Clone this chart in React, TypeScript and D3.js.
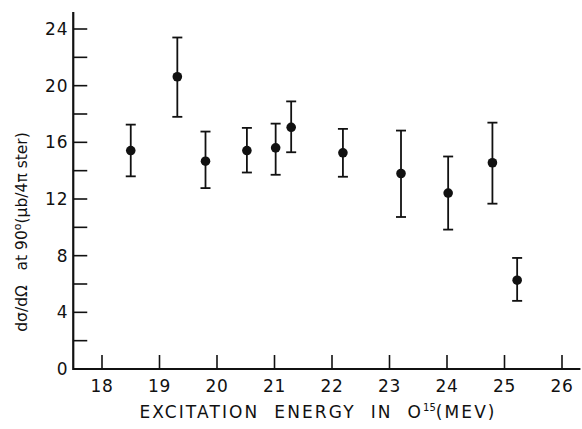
import React, { useEffect, useRef } from "react";
import * as d3 from "d3";

// excitation energy (MeV) and cross section with error bar ends
const energy = [18.5, 19.31, 19.8, 20.52, 21.02, 21.29, 22.19, 23.2, 24.02, 24.79, 25.22];
const sigma = [15.42, 20.63, 14.67, 15.42, 15.61, 17.06, 15.26, 13.8, 12.42, 14.56, 6.27];
const errHigh = [17.25, 23.4, 16.76, 17.02, 17.32, 18.89, 16.95, 16.83, 15.0, 17.39, 7.84];
const errLow = [13.6, 17.8, 12.77, 13.87, 13.71, 15.3, 13.57, 10.73, 9.84, 11.67, 4.81];

const xTicks = [18, 19, 20, 21, 22, 23, 24, 25, 26];
const yMajor = [0, 4, 8, 12, 16, 20, 24];
const yMinor = [2, 6, 10, 14, 18, 22];

const W = 582;
const H = 429;
const FONT = "'DejaVu Sans', sans-serif";

function App() {
  const ref = useRef(null);

  useEffect(() => {
    const svg = d3
      .select(ref.current)
      .append("svg")
      .attr("width", W)
      .attr("height", H)
      .style("position", "absolute")
      .style("left", "0px")
      .style("top", "0px")
      .style("background", "#fff");

    const x = d3.scaleLinear().domain([18, 26]).range([102, 562]);
    const y = d3.scaleLinear().domain([0, 24]).range([369, 29]);

    const x0 = x(17.5);
    const y0 = y(0);

    // axes lines
    svg
      .append("line")
      .attr("x1", x0)
      .attr("x2", x(26.32))
      .attr("y1", y0)
      .attr("y2", y0)
      .attr("stroke", "#111")
      .attr("stroke-width", 2.2);
    svg
      .append("line")
      .attr("x1", x0)
      .attr("x2", x0)
      .attr("y1", y0 + 1)
      .attr("y2", y(25.2))
      .attr("stroke", "#111")
      .attr("stroke-width", 2.2);

    // y ticks
    svg
      .append("g")
      .selectAll("line")
      .data(yMajor.concat(yMinor))
      .join("line")
      .attr("x1", x0)
      .attr("x2", x0 + 14)
      .attr("y1", (d) => y(d))
      .attr("y2", (d) => y(d))
      .attr("stroke", "#111")
      .attr("stroke-width", 1.6);

    svg
      .append("g")
      .selectAll("text")
      .data(yMajor)
      .join("text")
      .attr("x", x0 - 5)
      .attr("y", (d) => y(d))
      .attr("dy", "0.36em")
      .attr("text-anchor", "end")
      .attr("font-family", FONT)
      .attr("font-size", 17)
      .attr("letter-spacing", 0.8)
      .attr("fill", "#111")
      .text((d) => d);

    // x ticks
    svg
      .append("g")
      .selectAll("line")
      .data(xTicks)
      .join("line")
      .attr("x1", (d) => x(d))
      .attr("x2", (d) => x(d))
      .attr("y1", y0)
      .attr("y2", y0 - 14)
      .attr("stroke", "#111")
      .attr("stroke-width", 1.6);

    svg
      .append("g")
      .selectAll("text")
      .data(xTicks)
      .join("text")
      .attr("x", (d) => x(d))
      .attr("y", y0 + 23)
      .attr("text-anchor", "middle")
      .attr("font-family", FONT)
      .attr("font-size", 17)
      .attr("letter-spacing", 0.8)
      .attr("fill", "#111")
      .text((d) => d);

    // x title
    const xt = svg
      .append("text")
      .attr("x", 318)
      .attr("y", 418)
      .attr("text-anchor", "middle")
      .attr("font-family", FONT)
      .attr("font-size", 17)
      .attr("letter-spacing", 2.1)
      .style("white-space", "pre")
      .attr("fill", "#111");
    xt.append("tspan").text("EXCITATION  ENERGY  IN  O");
    xt.append("tspan").attr("dy", -7).attr("font-size", 10).attr("letter-spacing", 0).text("15");
    xt.append("tspan").attr("dy", 7).text("(MEV)");

    // y title
    const yt = svg
      .append("text")
      .attr("transform", "translate(27,232) rotate(-90)")
      .attr("text-anchor", "middle")
      .attr("font-family", FONT)
      .attr("font-size", 15.5)
      .style("white-space", "pre")
      .attr("fill", "#111");
    yt.append("tspan").text("d\u03c3/d\u03a9   at 90");
    yt.append("tspan").attr("dy", -6).attr("font-size", 11).text("o");
    yt.append("tspan").attr("dy", 6).text("(\u03bcb/4\u03c0 ster)");

    // error bars
    const idx = d3.range(energy.length);
    const bars = svg.append("g").attr("stroke", "#111").attr("stroke-width", 1.8);
    bars
      .selectAll(".stem")
      .data(idx)
      .join("line")
      .attr("x1", (i) => x(energy[i]))
      .attr("x2", (i) => x(energy[i]))
      .attr("y1", (i) => y(errHigh[i]))
      .attr("y2", (i) => y(errLow[i]));
    bars
      .selectAll(".capTop")
      .data(idx)
      .join("line")
      .attr("class", "capTop")
      .attr("x1", (i) => x(energy[i]) - 5)
      .attr("x2", (i) => x(energy[i]) + 5)
      .attr("y1", (i) => y(errHigh[i]))
      .attr("y2", (i) => y(errHigh[i]));
    bars
      .selectAll(".capBot")
      .data(idx)
      .join("line")
      .attr("class", "capBot")
      .attr("x1", (i) => x(energy[i]) - 5)
      .attr("x2", (i) => x(energy[i]) + 5)
      .attr("y1", (i) => y(errLow[i]))
      .attr("y2", (i) => y(errLow[i]));

    // points
    svg
      .append("g")
      .selectAll("circle")
      .data(idx)
      .join("circle")
      .attr("cx", (i) => x(energy[i]))
      .attr("cy", (i) => y(sigma[i]))
      .attr("r", 4.8)
      .attr("fill", "#111");

    return () => svg.remove();
  }, []);

  return <div ref={ref}></div>;
}

export default App;
